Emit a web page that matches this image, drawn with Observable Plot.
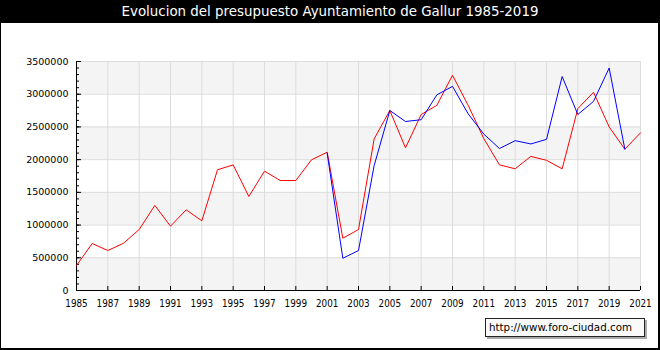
<!DOCTYPE html>
<html>
<head>
<meta charset="utf-8">
<script src="https://cdn.jsdelivr.net/npm/d3@7"></script>
<script src="https://cdn.jsdelivr.net/npm/@observablehq/plot@0.6"></script>
<style>
  body { margin: 0; background: #fff; }
  #wrap { position: relative; width: 660px; height: 350px; background: #fff; overflow: hidden; }
  #title { height: 23px; background: #000; color: #fff; text-align: center; font: 13.4px "DejaVu Sans", sans-serif; line-height: 24px; }
  #chart { position: absolute; top: 23px; left: 0; }
  #border { position: absolute; top: 23px; left: 0; width: 660px; height: 327px; box-sizing: border-box;
            border-left: 1px solid #000; border-right: 2px solid #000; border-bottom: 2px solid #000; pointer-events: none; }
  #wm { position: absolute; left: 485px; top: 318px; width: 160px; height: 19px; box-sizing: border-box;
        border: 1px solid #222; background: #fafafa; box-shadow: 2px 2px 0 #aaa;
        font: 10.3px "DejaVu Sans", sans-serif; line-height: 17px; padding-left: 3px; color: #000; }
</style>
</head>
<body>
<div id="wrap">
  <div id="title">Evolucion del presupuesto Ayuntamiento de Gallur 1985-2019</div>
  <div id="chart"></div>
  <div id="border"></div>
  <div id="wm">http://www.foro-ciudad.com</div>
</div>
<script>
const years = d3.range(1985, 2022);
const ingresos = [382000, 718000, 611000, 723000, 932000, 1300000, 983000, 1233000, 1065000, 1845000,
  1920000, 1437000, 1824000, 1681000, 1681000, 1997000, 2114000, 799000, 932000, 2318000,
  2751000, 2180000, 2690000, 2830000, 3290000, 2830000, 2320000, 1920000, 1860000, 2050000,
  1990000, 1860000, 2780000, 3030000, 2500000, 2160000, 2410000];
const gastos = [null, null, null, null, null, null, null, null, null, null,
  null, null, null, null, null, null, 2100000, 493000, 611000, 1910000,
  2751000, 2583000, 2610000, 2990000, 3120000, 2700000, 2390000, 2170000, 2290000, 2240000,
  2310000, 3270000, 2690000, 2890000, 3400000, 2160000, null];
const xTicks = d3.range(1985, 2022, 2);
const yMajor = d3.range(0, 3500001, 500000);
const yMinor = d3.range(0, 3500001, 100000);
const bandStarts = [0, 1000000, 2000000, 3000000];

const redData = years.map((y, i) => ({year: y, value: ingresos[i]}));
const blueData = years.map((y, i) => ({year: y, value: gastos[i]})).filter(d => d.value != null);

const chart = Plot.plot({
  width: 660,
  height: 327,
  marginLeft: 76,
  marginRight: 20,
  marginTop: 38,
  marginBottom: 60,
  style: {fontFamily: "DejaVu Sans", fontSize: "9.5px", background: "transparent", color: "#000"},
  x: {domain: [1985, 2021]},
  y: {domain: [0, 3500000]},
  marks: [
    Plot.rect(bandStarts, {y1: d => d, y2: d => d + 500000, fill: "#f4f4f4"}),
    Plot.gridX(xTicks, {stroke: "#dcdcdc", strokeOpacity: 1}),
    Plot.gridY(yMajor, {stroke: "#dcdcdc", strokeOpacity: 1}),
    Plot.ruleY([0], {stroke: "#000"}),
    Plot.ruleX([1985], {stroke: "#000"}),
    Plot.axisY({ticks: yMinor, tickSize: -3, tickFormat: () => "", label: null}),
    Plot.axisY({ticks: yMajor, tickSize: -5, tickFormat: () => "", label: null}),
    Plot.axisY({ticks: yMajor, tickSize: 0, tickPadding: 8, tickFormat: d3.format("d"), label: null, fontSize: 9.5}),
    Plot.axisX({ticks: xTicks, tickSize: -4, tickFormat: () => "", label: null}),
    Plot.axisX({ticks: xTicks, tickSize: 0, tickPadding: 10, tickFormat: d3.format("d"), label: null,
                fontFamily: "DejaVu Sans Condensed", fontSize: 9.8}),
    Plot.line(redData, {x: "year", y: "value", stroke: "#ff0000", strokeWidth: 1}),
    Plot.line(blueData, {x: "year", y: "value", stroke: "#0000ff", strokeWidth: 1})
  ]
});
document.getElementById("chart").appendChild(chart);
</script>
</body>
</html>
